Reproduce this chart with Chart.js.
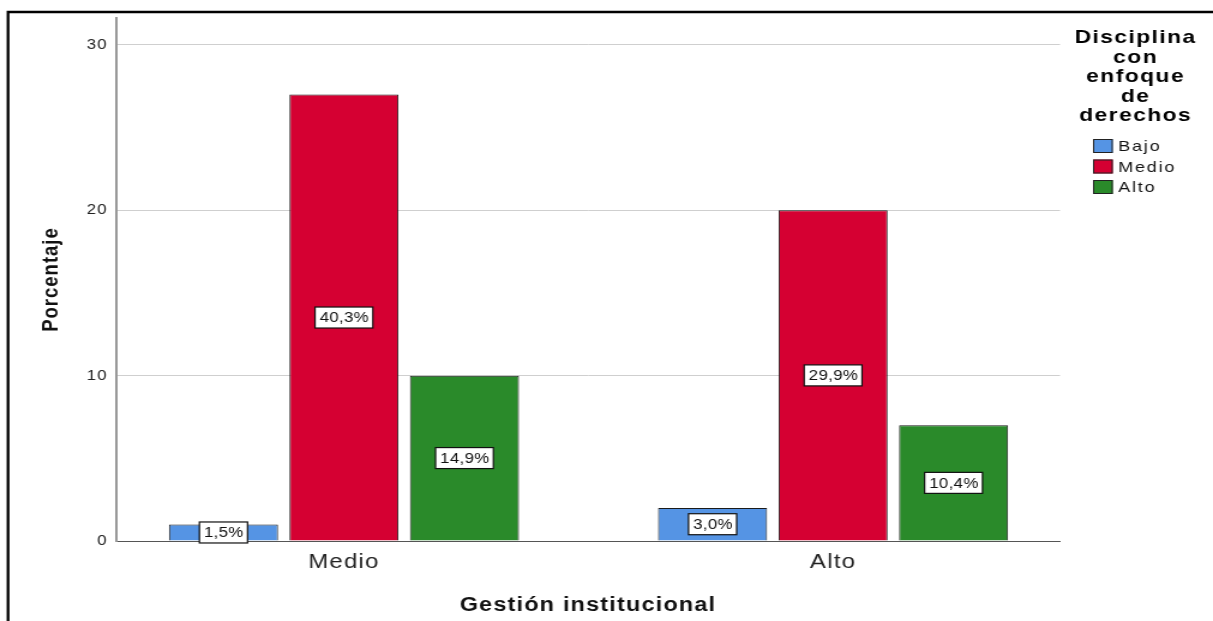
<!DOCTYPE html>
<html>
<head>
<meta charset="utf-8">
<script src="https://cdn.jsdelivr.net/npm/chart.js@4"></script>
<style>
  html, body { margin: 0; padding: 0; background: #fff; overflow: hidden; }
  /* the reference is stretched sideways, so the canvas is too */
  #wrap { width: 1011px; height: 621px; transform: scaleX(1.1998); transform-origin: 0 0; }
</style>
</head>
<body>
<div id="wrap"><canvas id="barChart" width="1011" height="621"></canvas></div>
<script>
// data
const categories = [`Medio`, `Alto`]
const seriesNames = [`Bajo`, `Medio`, `Alto`]
const bajoValues = [1, 2]
const medioValues = [27, 20]
const altoValues = [10, 7]
const bajoPct = [`1,5%`, `3,0%`]
const medioPct = [`40,3%`, `29,9%`]
const altoPct = [`14,9%`, `10,4%`]
const yTicks = [0, 10, 20, 30]
const legendTitle = [`Disciplina`, `con`, `enfoque`, `de`, `derechos`]

const colors = [`#5594e4`, `#d50032`, `#2a8a2a`]
const fontFam = `"Liberation Sans", Arial, sans-serif`

// wider letters for every text chart.js draws
const spacing = {
  id: `spacing`,
  beforeDraw(chart) { chart.ctx.letterSpacing = `1px` }
}

// frame round the picture
const framePlugin = {
  id: `frame`,
  afterDraw(chart) {
    const ctx = chart.ctx
    ctx.save()
    ctx.strokeStyle = `#000`
    ctx.lineWidth = 2.3
    ctx.beginPath()
    ctx.moveTo(1011, 12)
    ctx.lineTo(6.7, 12)
    ctx.lineTo(6.7, 621)
    ctx.stroke()
    ctx.restore()
  }
}

// white boxed labels in the middle of each bar
const boxLabels = {
  id: `boxLabels`,
  afterDatasetsDraw(chart) {
    const ctx = chart.ctx
    ctx.save()
    ctx.font = `14px ${fontFam}`
    ctx.letterSpacing = `0.3px`
    ctx.textAlign = `center`
    ctx.textBaseline = `middle`
    chart.data.datasets.forEach((ds, i) => {
      chart.getDatasetMeta(i).data.forEach((bar, j) => {
        const { x, y, base } = bar.getProps([`x`, `y`, `base`], true)
        const txt = ds.pctLabels[j]
        const cy = (y + base) / 2
        const w = ctx.measureText(txt).width + 7
        const h = 21
        ctx.fillStyle = `#fff`
        ctx.fillRect(x - w / 2, cy - h / 2, w, h)
        ctx.strokeStyle = `#111`
        ctx.lineWidth = 1.2
        ctx.strokeRect(x - w / 2, cy - h / 2, w, h)
        ctx.fillStyle = `#111`
        ctx.fillText(txt, x + 0.3, cy + 1)
      })
    })
    ctx.restore()
  }
}

// legend on the right, title on several lines
const sideLegend = {
  id: `sideLegend`,
  afterDraw(chart) {
    const ctx = chart.ctx
    ctx.save()
    ctx.fillStyle = `#000`
    ctx.font = `bold 19px ${fontFam}`
    ctx.letterSpacing = `1.2px`
    ctx.textAlign = `center`
    ctx.textBaseline = `middle`
    legendTitle.forEach((line, i) => ctx.fillText(line, 946.5, 38 + i * 19.5))
    ctx.font = `15px ${fontFam}`
    ctx.letterSpacing = `1.5px`
    ctx.textAlign = `left`
    chart.data.datasets.forEach((ds, i) => {
      const y = 146 + i * 20.5
      ctx.fillStyle = ds.backgroundColor
      ctx.fillRect(911, y - 7, 16.5, 14)
      ctx.strokeStyle = `#222`
      ctx.lineWidth = 1
      ctx.strokeRect(911.5, y - 6.5, 15.5, 13)
      ctx.fillStyle = `#111`
      ctx.fillText(ds.label, 932, y + 1)
    })
    ctx.restore()
  }
}

const makeSet = (label, values, pct, color) => ({
  label: label,
  data: values.map((v, i) => ({ x: i, y: v })),
  pctLabels: pct,
  backgroundColor: color,
  borderColor: `#1a1a1a`,
  borderWidth: 1,
  categoryPercentage: 0.739,
  barPercentage: 0.905
})

new Chart(document.querySelector(`#barChart`).getContext(`2d`), {
  type: `bar`,
  data: {
    datasets: [
      makeSet(seriesNames[0], bajoValues, bajoPct, colors[0]),
      makeSet(seriesNames[1], medioValues, medioPct, colors[1]),
      makeSet(seriesNames[2], altoValues, altoPct, colors[2])
    ]
  },
  options: {
    responsive: false,
    animation: false,
    layout: { padding: { left: 0, right: 127.5, top: 18, bottom: 0 } },
    plugins: {
      legend: { display: false },
      tooltip: { enabled: false }
    },
    scales: {
      x: {
        type: `linear`,
        offset: false,
        min: -0.466,
        max: 1.464,
        afterBuildTicks: scale => { scale.ticks = categories.map((c, i) => ({ value: i })) },
        afterFit: scale => { scale.height = 80 },
        ticks: {
          callback: v => categories[v],
          color: `#222`,
          font: { family: fontFam, size: 20 },
          padding: 9
        },
        grid: { display: false, drawTicks: false, offset: false },
        border: { color: `#555`, width: 1 },
        title: {
          display: true,
          text: `Gestión institucional`,
          color: `#111`,
          font: { family: fontFam, size: 19.5, weight: `bold` },
          padding: { top: 7 }
        }
      },
      y: {
        min: 0,
        max: 31.63,
        afterBuildTicks: scale => { scale.ticks = yTicks.map(v => ({ value: v })) },
        afterFit: scale => { scale.width = 96.7 },
        ticks: {
          color: `#222`,
          font: { family: fontFam, size: 14 },
          padding: 7
        },
        grid: { color: `#cfcfcf`, lineWidth: 1, drawTicks: false },
        border: { color: `#999`, width: 2 },
        title: {
          display: true,
          text: `Porcentaje`,
          color: `#111`,
          font: { family: fontFam, size: 18.5, weight: `bold` },
          padding: { top: 31.5 }
        }
      }
    }
  },
  plugins: [spacing, framePlugin, boxLabels, sideLegend]
})
</script>
</body>
</html>
